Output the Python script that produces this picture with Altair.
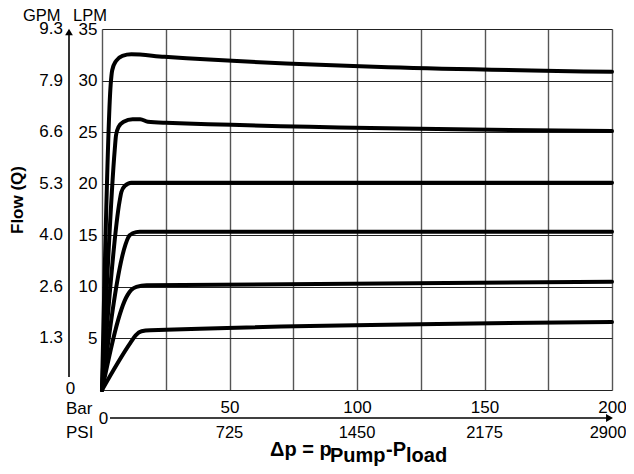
import altair as alt
import pandas as pd

FONT = "Liberation Sans"

# ---- curve data (x: pressure difference in bar, y: flow in LPM) ----
c1_bar = [0, 3.4, 4.0, 5.5, 8.0, 11.5, 24.5, 200]
c1_lpm = [0, 29.6, 31.0, 31.9, 32.4, 32.55, 32.3, 30.85]
c2_bar = [0, 5.0, 5.5, 6.5, 8.5, 12.0, 15.0, 18.0, 25.0, 200]
c2_lpm = [0, 23.3, 24.7, 25.5, 26.0, 26.25, 26.25, 26.0, 25.9, 25.1]
c3_bar = [0, 6.9, 7.6, 9.0, 11.5, 200]
c3_lpm = [0, 18.3, 19.2, 19.8, 20.1, 20.1]
c4_bar = [0, 9.2, 10.3, 12.0, 14.8, 200]
c4_lpm = [0, 14.1, 14.8, 15.2, 15.35, 15.35]
c5_bar = [0, 10.0, 11.5, 13.5, 17.5, 200]
c5_lpm = [0, 9.2, 9.7, 10.0, 10.15, 10.5]
c6_bar = [0, 11.2, 13.2, 15.5, 19.0, 200]
c6_lpm = [0, 4.6, 5.3, 5.7, 5.8, 6.6]

# ---- axis tick values and labels ----
grid_bar = [0, 25, 50, 75, 100, 125, 150, 175, 200]
bar_ticks = [50, 100, 150, 200]
psi_labels = ["725", "1450", "2175", "2900"]
lpm_ticks = [0, 5, 10, 15, 20, 25, 30, 35]
gpm_pos = [5, 10, 15, 20, 25, 30, 35]
gpm_labels = ["1.3", "2.6", "4.0", "5.3", "6.6", "7.9", "9.3"]

curves = [(c1_bar, c1_lpm), (c2_bar, c2_lpm), (c3_bar, c3_lpm),
          (c4_bar, c4_lpm), (c5_bar, c5_lpm), (c6_bar, c6_lpm)]
rows = []
for i, (bx, ly) in enumerate(curves):
    for b, l in zip(bx, ly):
        rows.append({"curve": f"c{i+1}", "bar": b, "lpm": l})
df = pd.DataFrame(rows)

xscale = alt.Scale(domain=[0, 200], nice=False, zero=False)
yscale = alt.Scale(domain=[0, 35], nice=False, zero=False)

xaxis = alt.Axis(values=grid_bar, grid=True, gridColor="#555", gridWidth=1.4,
                 domain=False, ticks=False, tickSize=0, labelPadding=9,
                 labelFontSize=17, labelFont=FONT, labelColor="black",
                 labelFlush=False, labelOverlap=False, title=None,
                 labelExpr="datum.value > 0 && datum.value % 50 == 0 ? datum.label : ''")
yaxis = alt.Axis(values=lpm_ticks, grid=True, gridColor="#222", gridWidth=1.2,
                 domain=False, ticks=False, tickSize=0, labelPadding=5,
                 labelFontSize=17, labelFont=FONT, labelColor="black",
                 labelFlush=False, labelOverlap=False, title=None,
                 labelExpr="datum.value == 0 ? '' : datum.label")


def X():
    return alt.X("bar:Q", scale=xscale, axis=xaxis, title=None)


def Y():
    return alt.Y("lpm:Q", scale=yscale, axis=yaxis, title=None)


lines = alt.Chart(df).mark_line(
    color="black", strokeWidth=4, interpolate="monotone",
    strokeCap="round", strokeJoin="round"
).encode(x=X(), y=Y(), detail="curve:N")

gpm_df = pd.DataFrame({"lpm": gpm_pos, "gpm": gpm_labels})
gpm_text = alt.Chart(gpm_df).mark_text(
    align="right", baseline="middle", fontSize=17, font=FONT, color="black"
).encode(x=alt.value(-39), y=Y(), text="gpm:N")

psi_df = pd.DataFrame({"bar": bar_ticks, "psi": psi_labels})
psi_text = alt.Chart(psi_df).transform_filter("datum.bar < 200").mark_text(
    align="center", baseline="middle", fontSize=16.5, font=FONT, color="black"
).encode(x=X(), y=alt.value(403.5), text="psi:N")
psi_last = alt.Chart(psi_df).transform_filter("datum.bar >= 200").mark_text(
    align="center", baseline="middle", fontSize=16.5, font=FONT, color="black", dx=-4
).encode(x=X(), y=alt.value(403.5), text="psi:N")

one = pd.DataFrame({"k": [0]})


def txt(s, x, y, size=17, bold=False, align="left", baseline="alphabetic", angle=None):
    kw = dict(text=s, fontSize=size, font=FONT, align=align, baseline=baseline, color="black")
    if bold:
        kw["fontWeight"] = "bold"
    if angle is not None:
        kw["angle"] = angle
    return alt.Chart(one).mark_text(**kw).encode(x=alt.value(x), y=alt.value(y))


decor = [
    # vertical GPM arrow
    alt.Chart(one).mark_rule(color="black", strokeWidth=1.6).encode(
        x=alt.value(-33), y=alt.value(5), y2=alt.value(348)),
    alt.Chart(one).mark_point(shape="triangle-up", filled=True, size=60, color="black", opacity=1).encode(
        x=alt.value(-33), y=alt.value(3)),
    # horizontal pressure arrow
    alt.Chart(one).mark_rule(color="black", strokeWidth=1.6).encode(
        x=alt.value(8), x2=alt.value(505), y=alt.value(389)),
    alt.Chart(one).mark_point(shape="triangle-right", filled=True, size=64, color="black", opacity=1).encode(
        x=alt.value(507.5), y=alt.value(389)),
    txt("GPM", -79, -8, size=16.5),
    txt("LPM", -29, -8, size=16.5),
    txt("0", -31.5, 360, align="center", baseline="middle"),
    txt("Bar", -36, 380, baseline="middle"),
    txt("PSI", -36, 403.5, baseline="middle"),
    txt("0", 1.5, 390, align="center", baseline="middle"),
    txt("Flow (Q)", -84, 171, size=17, bold=True, align="center", baseline="middle", angle=270),
    txt("\u0394p = p", 168, 427, size=20, bold=True),
    txt("Pump", 228, 432.5, size=20, bold=True),
    txt("-P", 284, 427, size=20, bold=True),
    txt("load", 304, 432.5, size=20, bold=True),
]

chart = alt.layer(lines, gpm_text, psi_text, psi_last, *decor).properties(
    width=510, height=361,
    autosize=alt.AutoSizeParams(type="none"),
    padding={"left": 94, "top": 21, "right": 14, "bottom": 76},
).configure_view(stroke="black", strokeWidth=1.6).configure(background="white")

chart.save("out.html", embed_options={"renderer": "svg", "actions": False})
